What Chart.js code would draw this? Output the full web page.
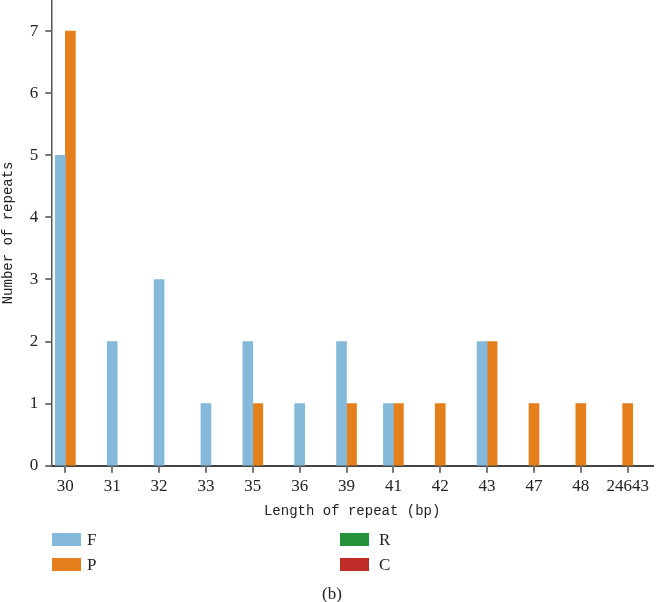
<!DOCTYPE html>
<html>
<head>
<meta charset="utf-8">
<script src="https://cdn.jsdelivr.net/npm/chart.js@4/dist/chart.umd.min.js"></script>
<style>
  body { margin: 0; background: #fff; }
  #wrap { position: relative; width: 657px; height: 602px; }
  .leg { position: absolute; font: 17px "Liberation Serif", serif; color: #222; line-height: 14px; }
  .sw { position: absolute; width: 29px; height: 13px; }
  #cap { position: absolute; left: 0; width: 664px; top: 584px; text-align: center; font: 17px "Liberation Serif", serif; color: #222; }
</style>
</head>
<body>
<div id="wrap">
  <canvas id="myChart" width="657" height="602"></canvas>
  <div id="legend"></div>
  <div id="cap">(b)</div>
</div>
<script>
// data
let categories = ['30', '31', '32', '33', '35', '36', '39', '41', '42', '43', '47', '48', '24643'];
let seriesF = [5, 2, 3, 1, 2, 1, 2, 1, 0, 2, 0, 0, 0];
let seriesP = [7, 0, 0, 0, 1, 0, 1, 1, 1, 2, 1, 1, 1];
let seriesR = [0, 0, 0, 0, 0, 0, 0, 0, 0, 0, 0, 0, 0];
let seriesC = [0, 0, 0, 0, 0, 0, 0, 0, 0, 0, 0, 0, 0];
let yTicks = [0, 1, 2, 3, 4, 5, 6, 7];

let names = ['F', 'P', 'R', 'C'];
let colors = ['#84b9da', '#e47f1c', '#23923b', '#bf2b26'];
let allSeries = [seriesF, seriesP, seriesR, seriesC];

// zero bars are left out so the rest sit centred on the tick
function toPoints(values) {
  return values.map((v, i) => ({ x: i, y: v === 0 ? null : v }));
}

let tickFont = { family: '"Liberation Serif", serif', size: 17 };
let titleFont = { family: '"Liberation Mono", monospace', size: 14 };

// short tick marks outside the axes, drawn as thin filled rects
const tickMarks = {
  id: 'tickMarks',
  afterDraw(chart) {
    const ctx = chart.ctx;
    const area = chart.chartArea;
    const xs = chart.scales.x;
    const ys = chart.scales.y;
    ctx.save();
    ctx.fillStyle = '#777';
    xs.ticks.forEach(t => {
      const px = Math.round(xs.getPixelForValue(t.value));
      ctx.fillRect(px - 1, area.bottom, 2, 7);
    });
    ys.ticks.forEach(t => {
      const py = Math.round(ys.getPixelForValue(t.value));
      ctx.fillRect(area.left - 6, py - 1, 6, 2);
    });
    ctx.restore();
  }
};

const data = {
  datasets: allSeries.map((s, k) => ({
    label: names[k],
    data: toPoints(s),
    backgroundColor: colors[k],
    borderWidth: 0,
    barThickness: 10,
    skipNull: true
  }))
};

const config = {
  type: 'bar',
  data: data,
  options: {
    responsive: false,
    animation: false,
    layout: { padding: { left: 0, top: 0, right: 4, bottom: 82 } },
    plugins: { legend: { display: false }, tooltip: { enabled: false } },
    scales: {
      x: {
        type: 'linear',
        min: -0.3,
        max: 12.54,
        offset: false,
        afterBuildTicks: s => { s.ticks = categories.map((c, i) => ({ value: i })); },
        afterFit: s => { s.paddingLeft = 0; s.paddingRight = 0; },
        ticks: {
          stepSize: 1,
          autoSkip: false,
          maxRotation: 0,
          padding: 4,
          color: '#222',
          font: tickFont,
          callback: v => categories[v]
        },
        grid: { offset: false, drawOnChartArea: false, drawTicks: true, tickLength: 7, color: 'rgba(0,0,0,0)' },
        border: { display: true, color: '#444', width: 2 },
        title: { display: true, text: 'Length of repeat (bp)', color: '#222', font: titleFont, padding: { top: 2, bottom: 0 } }
      },
      y: {
        min: 0,
        max: 7.5,
        afterBuildTicks: s => { s.ticks = yTicks.map(v => ({ value: v })); },
        afterFit: s => { s.paddingTop = 0; },
        ticks: { stepSize: 1, padding: 7, color: '#222', font: tickFont },
        grid: { drawOnChartArea: false, drawTicks: true, tickLength: 6, color: 'rgba(0,0,0,0)' },
        border: { display: true, color: '#555', width: 1.5 },
        title: { display: true, text: 'Number of repeats', color: '#222', font: titleFont, padding: { top: 0, bottom: 6 } }
      }
    }
  },
  plugins: [tickMarks]
};

const myChart = new Chart(document.getElementById('myChart'), config);

// legend in two columns: F / P on the left, R / C on the right
let legendSpots = [[52, 533], [52, 558], [340, 533], [340, 558]];
let legendBox = document.getElementById('legend');
for (let k = 0; k < names.length; k++) {
  let sw = document.createElement('div');
  sw.className = 'sw';
  sw.style.left = legendSpots[k][0] + 'px';
  sw.style.top = legendSpots[k][1] + 'px';
  sw.style.background = colors[k];
  legendBox.appendChild(sw);
  let tx = document.createElement('div');
  tx.className = 'leg';
  tx.style.left = (legendSpots[k][0] + (k < 2 ? 35 : 39)) + 'px';
  tx.style.top = legendSpots[k][1] + 'px';
  tx.textContent = names[k];
  legendBox.appendChild(tx);
}
</script>
</body>
</html>
